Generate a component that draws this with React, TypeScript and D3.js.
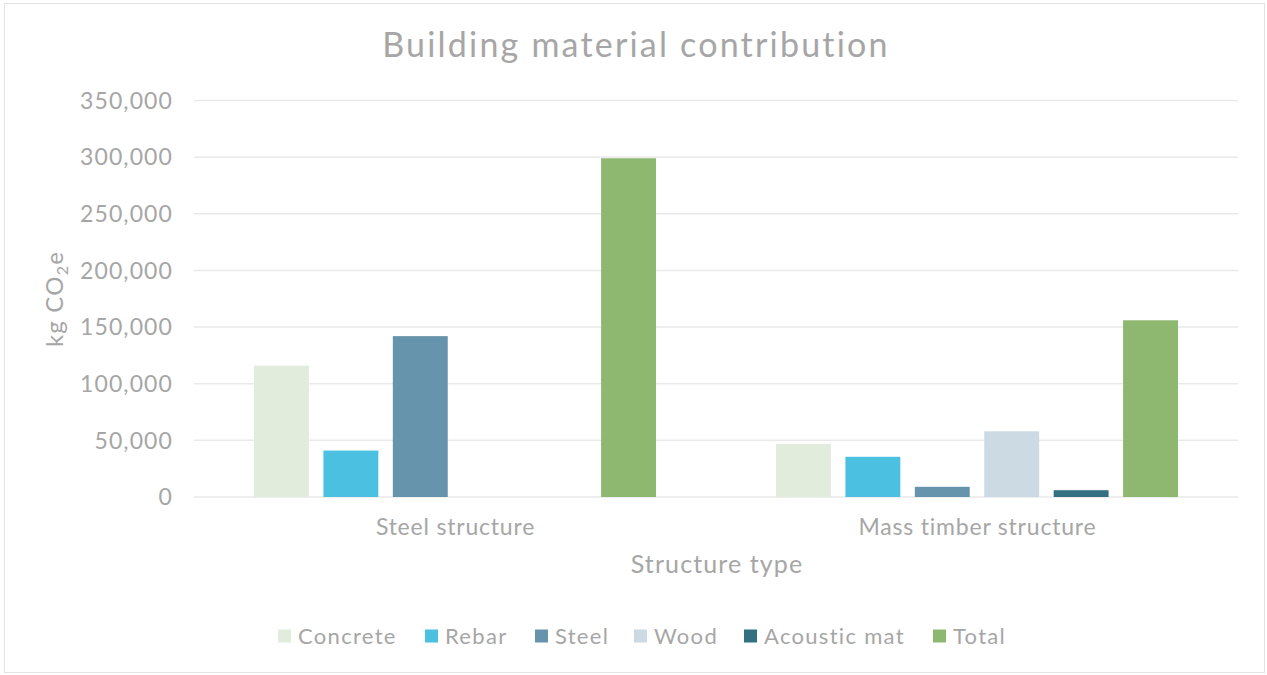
import React from "react";
import * as d3 from "d3";

const categories = ["Steel structure", "Mass timber structure"];
const seriesNames = ["Concrete", "Rebar", "Steel", "Wood", "Acoustic mat", "Total"];
const seriesColors = ["#e2ecdc", "#4bc0e0", "#6694ac", "#ccdae3", "#346f82", "#8eb870"];
const concrete = [116000, 47000];
const rebar = [41000, 35500];
const steel = [142000, 9000];
const wood = [0, 58000];
const acousticMat = [0, 6000];
const total = [299000, 156000];
const yTicks = [0, 50000, 100000, 150000, 200000, 250000, 300000, 350000];

const seriesValues = [concrete, rebar, steel, wood, acousticMat, total];

const W = 1267;
const H = 675;
const FONT = "Lato, 'Open Sans', sans-serif";
const TEXT = "#a6a6a6";

export default function App() {
  const left = 194, right = 1238, top = 100.5, bottom = 497;
  const y = d3.scaleLinear().domain([0, 350000]).range([bottom, top]);
  const x0 = d3.scaleBand<string>().domain(categories).range([left, right]).padding(0);
  const groupW = 402;
  const x1 = d3
    .scaleBand<string>()
    .domain(seriesNames)
    .range([(x0.bandwidth() - groupW) / 2, (x0.bandwidth() + groupW) / 2])
    .paddingInner(0.209)
    .paddingOuter(0);
  const fmt = d3.format(",");

  // legend layout
  const legendY = 636;
  const sq = 13;
  const legendFont = 22;
  const legendStarts = [278, 425, 535, 634, 744, 933];

  return (
    <div style={{ position: "absolute", left: 0, top: 0 }}>
      <svg width={W} height={H} style={{ display: "block", fontFamily: FONT }}>
        <rect x={4.5} y={3.5} width={1260} height={669} fill="#fff" stroke="#e3e3e3" strokeWidth={1} />
        <text x={636} y={57} textAnchor="middle" fontSize={34} letterSpacing={2.2} fill={TEXT}>
          Building material contribution
        </text>
        {yTicks.map((t) => (
          <g key={t}>
            <line x1={left} x2={right} y1={y(t)} y2={y(t)} stroke="#e9e9e9" strokeWidth={1.5} />
            <text x={173} y={y(t)} dy="0.36em" textAnchor="end" fontSize={23} letterSpacing={1.1} fill={TEXT}>
              {fmt(t)}
            </text>
          </g>
        ))}
        {categories.map((c, ci) => (
          <g key={c} transform={`translate(${x0(c)},0)`}>
            {seriesNames.map((s, si) => {
              const v = seriesValues[si][ci];
              if (!v) return null;
              return (
                <rect
                  key={s}
                  x={x1(s)}
                  y={y(v)}
                  width={x1.bandwidth()}
                  height={y(0) - y(v)}
                  fill={seriesColors[si]}
                />
              );
            })}
            <text
              x={x0.bandwidth() / 2 + 0.5}
              y={535}
              textAnchor="middle"
              fontSize={23}
              letterSpacing={0.8}
              fill={TEXT}
            >
              {c}
            </text>
          </g>
        ))}
        <text x={(left + right) / 2 + 1} y={573} textAnchor="middle" fontSize={25} letterSpacing={1.1} fill={TEXT}>
          Structure type
        </text>
        <text
          transform="translate(63,299) rotate(-90)"
          textAnchor="middle"
          fontSize={24}
          letterSpacing={1.2}
          fill={TEXT}
        >
          kg CO
          <tspan fontSize={16} dy={5}>2</tspan>
          <tspan dy={-5}>e</tspan>
        </text>
        {seriesNames.map((s, i) => (
          <g key={s} transform={`translate(${legendStarts[i]},${legendY})`}>
            <rect x={0} y={-sq / 2} width={sq} height={sq} fill={seriesColors[i]} />
            <text x={sq + 7} y={0} dy="0.36em" fontSize={legendFont} letterSpacing={1.3} fill={TEXT}>
              {s}
            </text>
          </g>
        ))}
      </svg>
    </div>
  );
}
